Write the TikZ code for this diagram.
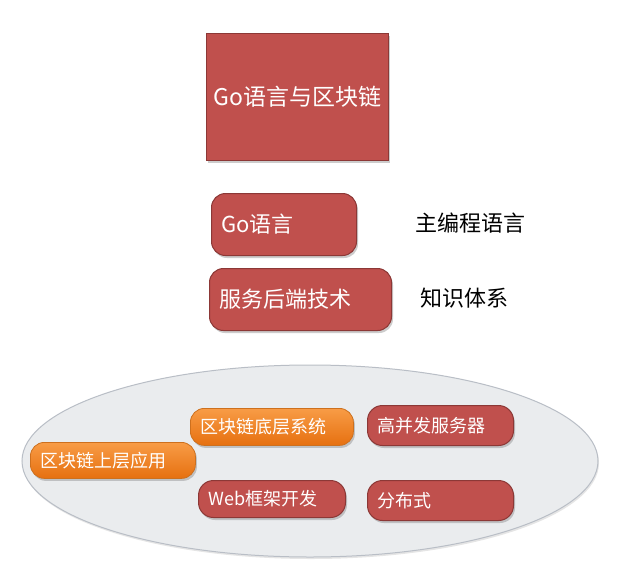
\documentclass[tikz,border=0pt]{standalone}
\usepackage{fontspec}
\setmainfont{Noto Sans CJK SC}
\usetikzlibrary{shadows,shapes.geometric}
\definecolor{boxred}{RGB}{192,80,77}
\definecolor{boxredline}{RGB}{140,56,54}
\definecolor{orangetop}{RGB}{248,156,70}
\definecolor{orangebot}{RGB}{230,112,16}
\definecolor{boxorangeline}{RGB}{205,112,30}
\definecolor{ellfill}{RGB}{234,236,238}
\definecolor{ellline}{RGB}{185,190,198}
\tikzset{
  redbox/.style={draw=boxredline, line width=1pt, fill=boxred, text=white,
    rounded corners=14pt, inner xsep=10pt, inner ysep=0pt, align=left,
    font=\fontsize{22}{24}\selectfont, anchor=north west,
    drop shadow={shadow xshift=1.5pt, shadow yshift=-2.5pt, opacity=0.4}},
  smallred/.style={redbox, font=\fontsize{18}{20}\selectfont, rounded corners=15pt},
  orangebox/.style={draw=boxorangeline, line width=0.8pt, top color=orangetop,
    bottom color=orangebot, text=white,
    rounded corners=14pt, inner xsep=10pt, inner ysep=0pt, align=left,
    font=\fontsize{18}{20}\selectfont, anchor=north west,
    drop shadow={shadow xshift=1.5pt, shadow yshift=-2.5pt, opacity=0.4}},
  sidelabel/.style={text=black, font=\fontsize{22}{24}\selectfont, anchor=west, inner sep=0pt}
}
\begin{document}
\begin{tikzpicture}[x=1pt,y=-1pt]
\useasboundingbox (0,0) rectangle (622,574);
\fill[white] (0,0) rectangle (622,574);
% top box
\node[draw=boxredline, line width=1pt, fill=boxred, text=white, anchor=north west,
  minimum width=182pt, minimum height=127pt, inner sep=0pt,
  font=\fontsize{23}{25}\selectfont,
  drop shadow={shadow xshift=1.5pt, shadow yshift=-2.5pt, opacity=0.4}]
  (top) at (206,33) {Go语言与区块链};
% middle boxes
\node[redbox, minimum height=62pt, text width=125pt] (go) at (211,193) {Go语言};
\node[redbox, minimum height=62pt, text width=162pt] (fw) at (209,268) {服务后端技术};
\node[sidelabel] (l1) at (415,223) {主编程语言};
\node[sidelabel] (l2) at (420,298) {知识体系};
% ellipse
\node[ellipse, draw=ellline, line width=1pt, fill=ellfill,
  minimum width=576pt, minimum height=192pt, inner sep=0pt,
  drop shadow={shadow xshift=1pt, shadow yshift=-2pt, opacity=0.2}]
  (ell) at (310,461) {};
% inner boxes
\node[orangebox, minimum height=37pt, text width=143pt] (chain) at (190,408) {区块链底层系统};
\node[smallred, minimum height=40pt, text width=126pt] (srv) at (367,405) {高并发服务器};
\node[orangebox, minimum height=36pt, text width=145pt] (app) at (30,442) {区块链上层应用};
\node[smallred, minimum height=37pt, text width=127pt] (web) at (198,480) {Web框架开发};
\node[smallred, minimum height=40pt, text width=126pt] (dist) at (367,480) {分布式};
\end{tikzpicture}
\end{document}
